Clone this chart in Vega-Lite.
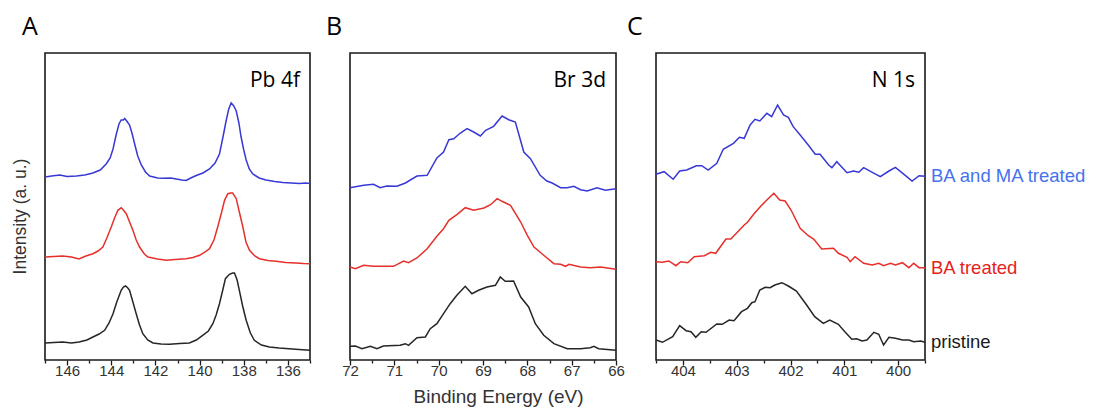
{
"$schema": "https://vega.github.io/schema/vega-lite/v6.json",
"padding": {"left": 10, "top": 14, "right": 4, "bottom": 0},
"spacing": 40,
"bounds": "flush",
"config": {
  "view": {"stroke": "#1a1a1a", "strokeWidth": 1.6},
  "font": "Liberation Sans",
  "axis": {"grid": false, "domain": false, "labelFont": "Liberation Sans", "labelFontSize": 15, "labelColor": "#333333", "tickColor": "#1a1a1a", "tickWidth": 1.3, "titleFont": "Liberation Sans", "titleFontWeight": "normal", "titleColor": "#333333", "labelFlush": false, "labelOverlap": false, "labelPadding": -2},
  "title": {"font": "Open Sans", "fontSize": 25, "fontWeight": "normal", "color": "#000000", "anchor": "start", "frame": "group", "baseline": "alphabetic", "offset": 13}
},
"datasets": {
"pb": [
{"sample":"BA and MA treated","energy":147.0,"intensity":183},{"sample":"BA and MA treated","energy":146.7,"intensity":184},{"sample":"BA and MA treated","energy":146.33,"intensity":185},{"sample":"BA and MA treated","energy":146.0,"intensity":183.5},{"sample":"BA and MA treated","energy":145.58,"intensity":184},{"sample":"BA and MA treated","energy":145.2,"intensity":185},{"sample":"BA and MA treated","energy":144.83,"intensity":187},{"sample":"BA and MA treated","energy":144.5,"intensity":190},{"sample":"BA and MA treated","energy":144.23,"intensity":196},{"sample":"BA and MA treated","energy":144.05,"intensity":202},{"sample":"BA and MA treated","energy":143.92,"intensity":211},{"sample":"BA and MA treated","energy":143.78,"intensity":225},{"sample":"BA and MA treated","energy":143.65,"intensity":236},{"sample":"BA and MA treated","energy":143.55,"intensity":240},{"sample":"BA and MA treated","energy":143.45,"intensity":240},{"sample":"BA and MA treated","energy":143.39,"intensity":241.5},{"sample":"BA and MA treated","energy":143.3,"intensity":239},{"sample":"BA and MA treated","energy":143.17,"intensity":235},{"sample":"BA and MA treated","energy":143.05,"intensity":226},{"sample":"BA and MA treated","energy":142.94,"intensity":216},{"sample":"BA and MA treated","energy":142.8,"intensity":204},{"sample":"BA and MA treated","energy":142.64,"intensity":195},{"sample":"BA and MA treated","energy":142.45,"intensity":188},{"sample":"BA and MA treated","energy":142.26,"intensity":184},{"sample":"BA and MA treated","energy":141.9,"intensity":182},{"sample":"BA and MA treated","energy":141.66,"intensity":181.7},{"sample":"BA and MA treated","energy":141.3,"intensity":182},{"sample":"BA and MA treated","energy":141.06,"intensity":181},{"sample":"BA and MA treated","energy":140.8,"intensity":180},{"sample":"BA and MA treated","energy":140.61,"intensity":179.5},{"sample":"BA and MA treated","energy":140.4,"intensity":182},{"sample":"BA and MA treated","energy":140.15,"intensity":184.5},{"sample":"BA and MA treated","energy":139.85,"intensity":187},{"sample":"BA and MA treated","energy":139.55,"intensity":191},{"sample":"BA and MA treated","energy":139.3,"intensity":197},{"sample":"BA and MA treated","energy":139.1,"intensity":206},{"sample":"BA and MA treated","energy":138.95,"intensity":222},{"sample":"BA and MA treated","energy":138.8,"intensity":239},{"sample":"BA and MA treated","energy":138.68,"intensity":251},{"sample":"BA and MA treated","energy":138.57,"intensity":257},{"sample":"BA and MA treated","energy":138.45,"intensity":254},{"sample":"BA and MA treated","energy":138.34,"intensity":249},{"sample":"BA and MA treated","energy":138.22,"intensity":237},{"sample":"BA and MA treated","energy":138.12,"intensity":223},{"sample":"BA and MA treated","energy":138.0,"intensity":210},{"sample":"BA and MA treated","energy":137.89,"intensity":200},{"sample":"BA and MA treated","energy":137.75,"intensity":191},{"sample":"BA and MA treated","energy":137.59,"intensity":186},{"sample":"BA and MA treated","energy":137.3,"intensity":182},{"sample":"BA and MA treated","energy":136.99,"intensity":180},{"sample":"BA and MA treated","energy":136.6,"intensity":178.5},{"sample":"BA and MA treated","energy":136.23,"intensity":177.5},{"sample":"BA and MA treated","energy":135.85,"intensity":177},{"sample":"BA and MA treated","energy":135.48,"intensity":176.5},{"sample":"BA and MA treated","energy":135.2,"intensity":177},{"sample":"BA and MA treated","energy":135.0,"intensity":176.5},
{"sample":"BA treated","energy":147.0,"intensity":103},{"sample":"BA treated","energy":146.6,"intensity":103.5},{"sample":"BA treated","energy":146.2,"intensity":104},{"sample":"BA treated","energy":145.8,"intensity":103},{"sample":"BA treated","energy":145.46,"intensity":101},{"sample":"BA treated","energy":145.15,"intensity":104},{"sample":"BA treated","energy":144.83,"intensity":106.3},{"sample":"BA treated","energy":144.6,"intensity":109},{"sample":"BA treated","energy":144.38,"intensity":113},{"sample":"BA treated","energy":144.2,"intensity":122},{"sample":"BA treated","energy":144.0,"intensity":133},{"sample":"BA treated","energy":143.85,"intensity":142},{"sample":"BA treated","energy":143.7,"intensity":149.7},{"sample":"BA treated","energy":143.55,"intensity":152.3},{"sample":"BA treated","energy":143.45,"intensity":150},{"sample":"BA treated","energy":143.32,"intensity":146.3},{"sample":"BA treated","energy":143.17,"intensity":138},{"sample":"BA treated","energy":143.02,"intensity":129.7},{"sample":"BA treated","energy":142.87,"intensity":120},{"sample":"BA treated","energy":142.72,"intensity":113},{"sample":"BA treated","energy":142.5,"intensity":106},{"sample":"BA treated","energy":142.34,"intensity":103},{"sample":"BA treated","energy":141.9,"intensity":101},{"sample":"BA treated","energy":141.51,"intensity":99.7},{"sample":"BA treated","energy":141.1,"intensity":100.5},{"sample":"BA treated","energy":140.61,"intensity":101.3},{"sample":"BA treated","energy":140.3,"intensity":102.5},{"sample":"BA treated","energy":140.0,"intensity":104.7},{"sample":"BA treated","energy":139.75,"intensity":108},{"sample":"BA treated","energy":139.55,"intensity":111.3},{"sample":"BA treated","energy":139.35,"intensity":120},{"sample":"BA treated","energy":139.18,"intensity":133},{"sample":"BA treated","energy":139.0,"intensity":148},{"sample":"BA treated","energy":138.87,"intensity":159.7},{"sample":"BA treated","energy":138.72,"intensity":166.3},{"sample":"BA treated","energy":138.6,"intensity":167},{"sample":"BA treated","energy":138.5,"intensity":167},{"sample":"BA treated","energy":138.34,"intensity":161.3},{"sample":"BA treated","energy":138.2,"intensity":148},{"sample":"BA treated","energy":138.04,"intensity":133},{"sample":"BA treated","energy":137.9,"intensity":118},{"sample":"BA treated","energy":137.74,"intensity":109.7},{"sample":"BA treated","energy":137.5,"intensity":104},{"sample":"BA treated","energy":137.29,"intensity":101.3},{"sample":"BA treated","energy":136.9,"intensity":99.5},{"sample":"BA treated","energy":136.53,"intensity":98.7},{"sample":"BA treated","energy":136.1,"intensity":97.5},{"sample":"BA treated","energy":135.63,"intensity":97},{"sample":"BA treated","energy":135.3,"intensity":96.5},{"sample":"BA treated","energy":135.0,"intensity":96.3},
{"sample":"pristine","energy":147.0,"intensity":17},{"sample":"pristine","energy":146.6,"intensity":17.5},{"sample":"pristine","energy":146.2,"intensity":18},{"sample":"pristine","energy":145.8,"intensity":17},{"sample":"pristine","energy":145.46,"intensity":18},{"sample":"pristine","energy":145.1,"intensity":20},{"sample":"pristine","energy":144.83,"intensity":23},{"sample":"pristine","energy":144.55,"intensity":26},{"sample":"pristine","energy":144.3,"intensity":29.7},{"sample":"pristine","energy":144.1,"intensity":37},{"sample":"pristine","energy":143.92,"intensity":46.3},{"sample":"pristine","energy":143.75,"intensity":58},{"sample":"pristine","energy":143.55,"intensity":69.7},{"sample":"pristine","energy":143.45,"intensity":73},{"sample":"pristine","energy":143.35,"intensity":74},{"sample":"pristine","energy":143.25,"intensity":72},{"sample":"pristine","energy":143.17,"intensity":69.7},{"sample":"pristine","energy":143.02,"intensity":58},{"sample":"pristine","energy":142.87,"intensity":46.3},{"sample":"pristine","energy":142.72,"intensity":35},{"sample":"pristine","energy":142.57,"intensity":26.3},{"sample":"pristine","energy":142.35,"intensity":20},{"sample":"pristine","energy":142.11,"intensity":17},{"sample":"pristine","energy":141.75,"intensity":16},{"sample":"pristine","energy":141.36,"intensity":15.7},{"sample":"pristine","energy":140.9,"intensity":16.5},{"sample":"pristine","energy":140.46,"intensity":17},{"sample":"pristine","energy":140.15,"intensity":20},{"sample":"pristine","energy":139.86,"intensity":24.7},{"sample":"pristine","energy":139.6,"intensity":29},{"sample":"pristine","energy":139.4,"intensity":36.3},{"sample":"pristine","energy":139.25,"intensity":45},{"sample":"pristine","energy":139.1,"intensity":56.3},{"sample":"pristine","energy":138.95,"intensity":70},{"sample":"pristine","energy":138.83,"intensity":81.3},{"sample":"pristine","energy":138.65,"intensity":85.7},{"sample":"pristine","energy":138.5,"intensity":87},{"sample":"pristine","energy":138.42,"intensity":87},{"sample":"pristine","energy":138.3,"intensity":80},{"sample":"pristine","energy":138.2,"intensity":69.7},{"sample":"pristine","energy":138.05,"intensity":54},{"sample":"pristine","energy":137.89,"intensity":39.7},{"sample":"pristine","energy":137.7,"intensity":27},{"sample":"pristine","energy":137.52,"intensity":19.7},{"sample":"pristine","energy":137.2,"intensity":15},{"sample":"pristine","energy":136.84,"intensity":13},{"sample":"pristine","energy":136.4,"intensity":12},{"sample":"pristine","energy":135.94,"intensity":11.3},{"sample":"pristine","energy":135.5,"intensity":10.5},{"sample":"pristine","energy":135.0,"intensity":9.7}
],
"br": [
{"sample":"BA and MA treated","energy":72.0,"intensity":172.3},{"sample":"BA and MA treated","energy":71.69,"intensity":174.7},{"sample":"BA and MA treated","energy":71.47,"intensity":175.7},{"sample":"BA and MA treated","energy":71.32,"intensity":172.3},{"sample":"BA and MA treated","energy":71.17,"intensity":174},{"sample":"BA and MA treated","energy":70.94,"intensity":173.7},{"sample":"BA and MA treated","energy":70.75,"intensity":177},{"sample":"BA and MA treated","energy":70.49,"intensity":184},{"sample":"BA and MA treated","energy":70.26,"intensity":184.7},{"sample":"BA and MA treated","energy":70.04,"intensity":202},{"sample":"BA and MA treated","energy":69.89,"intensity":208},{"sample":"BA and MA treated","energy":69.77,"intensity":220.3},{"sample":"BA and MA treated","energy":69.66,"intensity":221.3},{"sample":"BA and MA treated","energy":69.51,"intensity":227},{"sample":"BA and MA treated","energy":69.36,"intensity":231.3},{"sample":"BA and MA treated","energy":69.21,"intensity":228},{"sample":"BA and MA treated","energy":69.06,"intensity":224},{"sample":"BA and MA treated","energy":68.94,"intensity":229.7},{"sample":"BA and MA treated","energy":68.76,"intensity":233.7},{"sample":"BA and MA treated","energy":68.57,"intensity":244},{"sample":"BA and MA treated","energy":68.42,"intensity":240.3},{"sample":"BA and MA treated","energy":68.27,"intensity":238},{"sample":"BA and MA treated","energy":68.08,"intensity":208},{"sample":"BA and MA treated","energy":67.93,"intensity":201.3},{"sample":"BA and MA treated","energy":67.71,"intensity":184.7},{"sample":"BA and MA treated","energy":67.56,"intensity":179},{"sample":"BA and MA treated","energy":67.44,"intensity":177},{"sample":"BA and MA treated","energy":67.25,"intensity":172.3},{"sample":"BA and MA treated","energy":67.1,"intensity":172.3},{"sample":"BA and MA treated","energy":66.95,"intensity":173.7},{"sample":"BA and MA treated","energy":66.8,"intensity":170.3},{"sample":"BA and MA treated","energy":66.65,"intensity":169},{"sample":"BA and MA treated","energy":66.43,"intensity":172.3},{"sample":"BA and MA treated","energy":66.24,"intensity":169.7},{"sample":"BA and MA treated","energy":66.0,"intensity":171.3},
{"sample":"BA treated","energy":72.0,"intensity":93},{"sample":"BA treated","energy":71.88,"intensity":91.3},{"sample":"BA treated","energy":71.69,"intensity":94.7},{"sample":"BA treated","energy":71.47,"intensity":93.7},{"sample":"BA treated","energy":71.02,"intensity":93.7},{"sample":"BA treated","energy":70.79,"intensity":99},{"sample":"BA treated","energy":70.68,"intensity":97.3},{"sample":"BA treated","energy":70.49,"intensity":102},{"sample":"BA treated","energy":70.26,"intensity":111.3},{"sample":"BA treated","energy":70.04,"intensity":123.7},{"sample":"BA treated","energy":69.89,"intensity":131.3},{"sample":"BA treated","energy":69.77,"intensity":139.7},{"sample":"BA treated","energy":69.59,"intensity":145.3},{"sample":"BA treated","energy":69.4,"intensity":152.3},{"sample":"BA treated","energy":69.21,"intensity":149.7},{"sample":"BA treated","energy":68.98,"intensity":152},{"sample":"BA treated","energy":68.83,"intensity":155.3},{"sample":"BA treated","energy":68.68,"intensity":161.3},{"sample":"BA treated","energy":68.57,"intensity":158.7},{"sample":"BA treated","energy":68.38,"intensity":154.7},{"sample":"BA treated","energy":68.15,"intensity":138},{"sample":"BA treated","energy":68.0,"intensity":124.7},{"sample":"BA treated","energy":67.85,"intensity":113},{"sample":"BA treated","energy":67.63,"intensity":104.7},{"sample":"BA treated","energy":67.4,"intensity":96.3},{"sample":"BA treated","energy":67.25,"intensity":95.7},{"sample":"BA treated","energy":67.14,"intensity":93.7},{"sample":"BA treated","energy":67.06,"intensity":95.7},{"sample":"BA treated","energy":66.8,"intensity":93},{"sample":"BA treated","energy":66.58,"intensity":92.3},{"sample":"BA treated","energy":66.35,"intensity":93},{"sample":"BA treated","energy":66.0,"intensity":90.7},
{"sample":"pristine","energy":72.0,"intensity":13.7},{"sample":"pristine","energy":71.88,"intensity":14},{"sample":"pristine","energy":71.73,"intensity":11.3},{"sample":"pristine","energy":71.54,"intensity":13.7},{"sample":"pristine","energy":71.39,"intensity":11.3},{"sample":"pristine","energy":71.25,"intensity":14},{"sample":"pristine","energy":70.87,"intensity":14.7},{"sample":"pristine","energy":70.75,"intensity":16.3},{"sample":"pristine","energy":70.68,"intensity":14.7},{"sample":"pristine","energy":70.49,"intensity":22.3},{"sample":"pristine","energy":70.3,"intensity":23},{"sample":"pristine","energy":70.19,"intensity":31.3},{"sample":"pristine","energy":70.04,"intensity":36.3},{"sample":"pristine","energy":69.89,"intensity":46.3},{"sample":"pristine","energy":69.74,"intensity":56.3},{"sample":"pristine","energy":69.59,"intensity":64.7},{"sample":"pristine","energy":69.4,"intensity":73.7},{"sample":"pristine","energy":69.25,"intensity":66.3},{"sample":"pristine","energy":69.1,"intensity":69.7},{"sample":"pristine","energy":68.91,"intensity":73},{"sample":"pristine","energy":68.72,"intensity":74.7},{"sample":"pristine","energy":68.61,"intensity":83},{"sample":"pristine","energy":68.5,"intensity":78.7},{"sample":"pristine","energy":68.31,"intensity":79},{"sample":"pristine","energy":68.15,"intensity":63},{"sample":"pristine","energy":67.97,"intensity":53},{"sample":"pristine","energy":67.82,"intensity":36.3},{"sample":"pristine","energy":67.63,"intensity":24.7},{"sample":"pristine","energy":67.4,"intensity":16.3},{"sample":"pristine","energy":67.1,"intensity":11.3},{"sample":"pristine","energy":66.8,"intensity":11.3},{"sample":"pristine","energy":66.58,"intensity":12.3},{"sample":"pristine","energy":66.5,"intensity":13.7},{"sample":"pristine","energy":66.39,"intensity":11.3},{"sample":"pristine","energy":66.0,"intensity":9.7}
],
"n": [
{"sample":"BA and MA treated","energy":404.5,"intensity":185.7},{"sample":"BA and MA treated","energy":404.35,"intensity":188.3},{"sample":"BA and MA treated","energy":404.18,"intensity":180.7},{"sample":"BA and MA treated","energy":404.06,"intensity":189},{"sample":"BA and MA treated","energy":403.93,"intensity":190},{"sample":"BA and MA treated","energy":403.75,"intensity":194.3},{"sample":"BA and MA treated","energy":403.65,"intensity":194.3},{"sample":"BA and MA treated","energy":403.53,"intensity":190},{"sample":"BA and MA treated","energy":403.37,"intensity":196.7},{"sample":"BA and MA treated","energy":403.25,"intensity":210.7},{"sample":"BA and MA treated","energy":403.06,"intensity":216.7},{"sample":"BA and MA treated","energy":402.95,"intensity":222.7},{"sample":"BA and MA treated","energy":402.86,"intensity":221.7},{"sample":"BA and MA treated","energy":402.75,"intensity":235},{"sample":"BA and MA treated","energy":402.66,"intensity":240.7},{"sample":"BA and MA treated","energy":402.57,"intensity":239},{"sample":"BA and MA treated","energy":402.44,"intensity":246.7},{"sample":"BA and MA treated","energy":402.35,"intensity":243.3},{"sample":"BA and MA treated","energy":402.24,"intensity":255},{"sample":"BA and MA treated","energy":402.13,"intensity":245},{"sample":"BA and MA treated","energy":402.04,"intensity":242.7},{"sample":"BA and MA treated","energy":401.95,"intensity":233.3},{"sample":"BA and MA treated","energy":401.82,"intensity":225},{"sample":"BA and MA treated","energy":401.67,"intensity":215},{"sample":"BA and MA treated","energy":401.54,"intensity":205.7},{"sample":"BA and MA treated","energy":401.45,"intensity":205.7},{"sample":"BA and MA treated","energy":401.29,"intensity":195},{"sample":"BA and MA treated","energy":401.23,"intensity":192.3},{"sample":"BA and MA treated","energy":401.14,"intensity":198.3},{"sample":"BA and MA treated","energy":400.95,"intensity":187.3},{"sample":"BA and MA treated","energy":400.83,"intensity":189},{"sample":"BA and MA treated","energy":400.73,"intensity":187.7},{"sample":"BA and MA treated","energy":400.64,"intensity":192.3},{"sample":"BA and MA treated","energy":400.48,"intensity":187.7},{"sample":"BA and MA treated","energy":400.33,"intensity":183.3},{"sample":"BA and MA treated","energy":400.17,"intensity":189},{"sample":"BA and MA treated","energy":400.05,"intensity":192.7},{"sample":"BA and MA treated","energy":399.89,"intensity":185.7},{"sample":"BA and MA treated","energy":399.74,"intensity":179},{"sample":"BA and MA treated","energy":399.61,"intensity":184.3},{"sample":"BA and MA treated","energy":399.5,"intensity":183.7},
{"sample":"BA treated","energy":404.5,"intensity":98.3},{"sample":"BA treated","energy":404.38,"intensity":97.7},{"sample":"BA treated","energy":404.26,"intensity":99},{"sample":"BA treated","energy":404.13,"intensity":94.3},{"sample":"BA treated","energy":404.04,"intensity":98.3},{"sample":"BA treated","energy":403.91,"intensity":97.3},{"sample":"BA treated","energy":403.79,"intensity":103.3},{"sample":"BA treated","energy":403.6,"intensity":104.3},{"sample":"BA treated","energy":403.48,"intensity":107.7},{"sample":"BA treated","energy":403.39,"intensity":106.7},{"sample":"BA treated","energy":403.2,"intensity":121},{"sample":"BA treated","energy":403.11,"intensity":121},{"sample":"BA treated","energy":402.98,"intensity":128.3},{"sample":"BA treated","energy":402.86,"intensity":135},{"sample":"BA treated","energy":402.8,"intensity":137.7},{"sample":"BA treated","energy":402.67,"intensity":146.7},{"sample":"BA treated","energy":402.55,"intensity":154},{"sample":"BA treated","energy":402.42,"intensity":161},{"sample":"BA treated","energy":402.31,"intensity":166.7},{"sample":"BA treated","energy":402.2,"intensity":160},{"sample":"BA treated","energy":402.1,"intensity":159},{"sample":"BA treated","energy":401.99,"intensity":150},{"sample":"BA treated","energy":401.82,"intensity":131.7},{"sample":"BA treated","energy":401.67,"intensity":124.3},{"sample":"BA treated","energy":401.57,"intensity":121},{"sample":"BA treated","energy":401.42,"intensity":111},{"sample":"BA treated","energy":401.2,"intensity":111.7},{"sample":"BA treated","energy":401.11,"intensity":106.7},{"sample":"BA treated","energy":400.95,"intensity":102.7},{"sample":"BA treated","energy":400.89,"intensity":98.3},{"sample":"BA treated","energy":400.8,"intensity":103.3},{"sample":"BA treated","energy":400.64,"intensity":96.7},{"sample":"BA treated","energy":400.48,"intensity":95},{"sample":"BA treated","energy":400.36,"intensity":96.7},{"sample":"BA treated","energy":400.27,"intensity":94.3},{"sample":"BA treated","energy":400.14,"intensity":96.7},{"sample":"BA treated","energy":400.05,"intensity":95},{"sample":"BA treated","energy":399.92,"intensity":97.3},{"sample":"BA treated","energy":399.8,"intensity":92.3},{"sample":"BA treated","energy":399.71,"intensity":96.7},{"sample":"BA treated","energy":399.61,"intensity":92.3},{"sample":"BA treated","energy":399.5,"intensity":92.3},
{"sample":"pristine","energy":404.5,"intensity":20},{"sample":"pristine","energy":404.38,"intensity":17.7},{"sample":"pristine","energy":404.19,"intensity":23.3},{"sample":"pristine","energy":404.06,"intensity":34.3},{"sample":"pristine","energy":403.94,"intensity":29.3},{"sample":"pristine","energy":403.85,"intensity":28.3},{"sample":"pristine","energy":403.76,"intensity":22.7},{"sample":"pristine","energy":403.66,"intensity":28.3},{"sample":"pristine","energy":403.57,"intensity":27.7},{"sample":"pristine","energy":403.37,"intensity":36},{"sample":"pristine","energy":403.27,"intensity":35.7},{"sample":"pristine","energy":403.14,"intensity":40},{"sample":"pristine","energy":403.05,"intensity":39.3},{"sample":"pristine","energy":402.91,"intensity":48.3},{"sample":"pristine","energy":402.8,"intensity":51.7},{"sample":"pristine","energy":402.72,"intensity":57.3},{"sample":"pristine","energy":402.66,"intensity":58.3},{"sample":"pristine","energy":402.57,"intensity":70},{"sample":"pristine","energy":402.47,"intensity":72.7},{"sample":"pristine","energy":402.38,"intensity":72.3},{"sample":"pristine","energy":402.29,"intensity":75},{"sample":"pristine","energy":402.16,"intensity":77.3},{"sample":"pristine","energy":402.04,"intensity":74},{"sample":"pristine","energy":401.89,"intensity":69},{"sample":"pristine","energy":401.7,"intensity":55},{"sample":"pristine","energy":401.55,"intensity":43.3},{"sample":"pristine","energy":401.39,"intensity":36.7},{"sample":"pristine","energy":401.27,"intensity":40},{"sample":"pristine","energy":401.11,"intensity":35.7},{"sample":"pristine","energy":400.99,"intensity":28.3},{"sample":"pristine","energy":400.86,"intensity":20.7},{"sample":"pristine","energy":400.77,"intensity":21.3},{"sample":"pristine","energy":400.67,"intensity":19},{"sample":"pristine","energy":400.58,"intensity":20},{"sample":"pristine","energy":400.45,"intensity":27.7},{"sample":"pristine","energy":400.36,"intensity":25.7},{"sample":"pristine","energy":400.27,"intensity":15},{"sample":"pristine","energy":400.17,"intensity":22.7},{"sample":"pristine","energy":400.05,"intensity":21.7},{"sample":"pristine","energy":399.92,"intensity":20},{"sample":"pristine","energy":399.8,"intensity":20},{"sample":"pristine","energy":399.71,"intensity":18.3},{"sample":"pristine","energy":399.58,"intensity":19},{"sample":"pristine","energy":399.5,"intensity":17.7}
]
},
"hconcat": [
{
  "width": 265, "height": 307,
  "title": {"text": "A", "dx": -23},
  "layer": [
    {"data": {"name": "pb"},
     "mark": {"type": "line", "strokeWidth": 1.5},
     "encoding": {
       "x": {"field": "energy", "type": "quantitative", "scale": {"domain": [135, 147], "reverse": true, "nice": false, "zero": false},
             "axis": {"title": null, "values": [147,146,145,144,143,142,141,140,139,138,137,136,135], "labelExpr": "datum.value % 2 === 0 ? format(datum.value, 'd') : ''", "tickSize": {"condition": {"test": "datum.value % 2 === 0", "value": 5}, "value": 3}}},
       "y": {"field": "intensity", "type": "quantitative", "scale": {"domain": [0, 307], "nice": false},
             "axis": {"title": "Intensity (a. u.)", "ticks": false, "labels": false, "titlePadding": 16, "titleFontSize": 17.5, "titleY": 163}},
       "color": {"field": "sample", "type": "nominal", "legend": null, "scale": {"domain": ["BA and MA treated", "BA treated", "pristine"], "range": ["#3838d6", "#e6302c", "#262626"]}}
     }},
    {"data": {"values": [{"label": "Pb 4f"}]},
     "mark": {"type": "text", "align": "right", "baseline": "top", "dx": -10, "font": "Open Sans", "fontSize": 21, "color": "#000000"},
     "encoding": {
       "x": {"datum": 135, "type": "quantitative",
             "axis": {"title": null, "values": [147,146,145,144,143,142,141,140,139,138,137,136,135], "labelExpr": "datum.value % 2 === 0 ? format(datum.value, 'd') : ''", "tickSize": {"condition": {"test": "datum.value % 2 === 0", "value": 5}, "value": 3}}},
       "y": {"datum": 290, "type": "quantitative",
             "axis": {"title": "Intensity (a. u.)", "ticks": false, "labels": false, "titlePadding": 16, "titleFontSize": 17.5, "titleY": 163}},
       "text": {"field": "label"}}}
  ]
},
{
  "width": 266, "height": 307,
  "title": {"text": "B", "dx": -24},
  "layer": [
    {"data": {"name": "br"},
     "mark": {"type": "line", "strokeWidth": 1.5},
     "encoding": {
       "x": {"field": "energy", "type": "quantitative", "scale": {"domain": [66, 72], "reverse": true, "nice": false, "zero": false},
             "axis": {"title": "Binding Energy (eV)", "titleFontSize": 19, "titlePadding": 9, "titleX": 148, "values": [72,71.5,71,70.5,70,69.5,69,68.5,68,67.5,67,66.5,66], "labelExpr": "datum.value % 1 === 0 ? format(datum.value, 'd') : ''", "tickSize": {"condition": {"test": "datum.value % 1 === 0", "value": 5}, "value": 3}}},
       "y": {"field": "intensity", "type": "quantitative", "scale": {"domain": [0, 307], "nice": false}, "axis": null},
       "color": {"field": "sample", "type": "nominal", "legend": null, "scale": {"domain": ["BA and MA treated", "BA treated", "pristine"], "range": ["#3838d6", "#e6302c", "#262626"]}}
     }},
    {"data": {"values": [{"label": "Br 3d"}]},
     "mark": {"type": "text", "align": "right", "baseline": "top", "dx": -10, "font": "Open Sans", "fontSize": 21, "color": "#000000"},
     "encoding": {
       "x": {"datum": 66, "type": "quantitative",
             "axis": {"title": "Binding Energy (eV)", "titleFontSize": 19, "titlePadding": 9, "titleX": 148, "values": [72,71.5,71,70.5,70,69.5,69,68.5,68,67.5,67,66.5,66], "labelExpr": "datum.value % 1 === 0 ? format(datum.value, 'd') : ''", "tickSize": {"condition": {"test": "datum.value % 1 === 0", "value": 5}, "value": 3}}},
       "y": {"datum": 290, "type": "quantitative", "axis": null},
       "text": {"field": "label"}}}
  ]
},
{
  "width": 269, "height": 307,
  "title": {"text": "C", "dx": -29},
  "resolve": {"scale": {"color": "independent"}},
  "layer": [
    {"data": {"name": "n"},
     "mark": {"type": "line", "strokeWidth": 1.5},
     "encoding": {
       "x": {"field": "energy", "type": "quantitative", "scale": {"domain": [399.5, 404.5], "reverse": true, "nice": false, "zero": false},
             "axis": {"title": null, "values": [404.5,404,403.5,403,402.5,402,401.5,401,400.5,400,399.5], "labelExpr": "datum.value % 1 === 0 ? format(datum.value, 'd') : ''", "tickSize": {"condition": {"test": "datum.value % 1 === 0", "value": 5}, "value": 3}}},
       "y": {"field": "intensity", "type": "quantitative", "scale": {"domain": [0, 307], "nice": false}, "axis": null},
       "color": {"field": "sample", "type": "nominal", "legend": null, "scale": {"domain": ["BA and MA treated", "BA treated", "pristine"], "range": ["#3838d6", "#e6302c", "#262626"]}}
     }},
    {"data": {"name": "n"},
     "transform": [{"filter": "datum.energy === 399.5"}],
     "mark": {"type": "text", "align": "left", "baseline": "middle", "dx": 6, "font": "Liberation Sans", "fontSize": 18.5},
     "encoding": {
       "x": {"field": "energy", "type": "quantitative",
             "axis": {"title": null, "values": [404.5,404,403.5,403,402.5,402,401.5,401,400.5,400,399.5], "labelExpr": "datum.value % 1 === 0 ? format(datum.value, 'd') : ''", "tickSize": {"condition": {"test": "datum.value % 1 === 0", "value": 5}, "value": 3}}},
       "y": {"field": "intensity", "type": "quantitative", "axis": null},
       "text": {"field": "sample"},
       "color": {"field": "sample", "type": "nominal", "legend": null, "scale": {"domain": ["BA and MA treated", "BA treated", "pristine"], "range": ["#4672ee", "#e42320", "#1a1a1a"]}}
     }},
    {"data": {"values": [{"label": "N 1s"}]},
     "mark": {"type": "text", "align": "right", "baseline": "top", "dx": -10, "font": "Open Sans", "fontSize": 21, "color": "#000000"},
     "encoding": {
       "x": {"datum": 399.5, "type": "quantitative",
             "axis": {"title": null, "values": [404.5,404,403.5,403,402.5,402,401.5,401,400.5,400,399.5], "labelExpr": "datum.value % 1 === 0 ? format(datum.value, 'd') : ''", "tickSize": {"condition": {"test": "datum.value % 1 === 0", "value": 5}, "value": 3}}},
       "y": {"datum": 290, "type": "quantitative", "axis": null},
       "text": {"field": "label"}}}
  ]
}
]
}
